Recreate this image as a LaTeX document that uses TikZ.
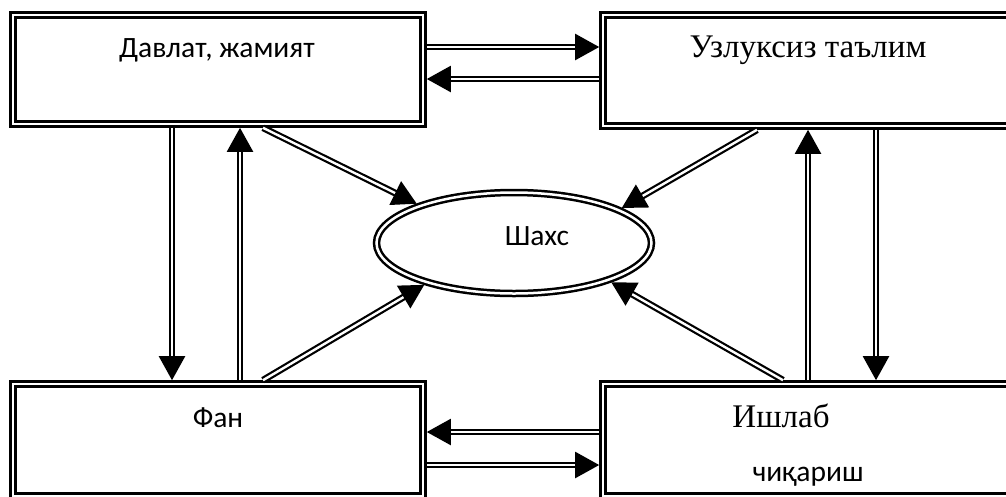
\documentclass[tikz,border=0pt]{standalone}
\usepackage{fontspec}
\newfontfamily\sansf{Carlito}
\newfontfamily\seriff{Liberation Serif}
\usetikzlibrary{arrows.meta,shapes.geometric}
\begin{document}
\begin{tikzpicture}[x=1pt,y=-1pt,
  box/.style={draw, double, line width=2.6pt, double distance=2.4pt, rectangle, inner sep=0pt, outer sep=3.8pt},
  oval/.style={draw, double, line width=2.5pt, double distance=2.5pt, ellipse, inner sep=0pt, outer sep=3.7pt},
  arr/.style={draw, double, line width=2.2pt, double distance=2.4pt, -{Triangle[length=24pt,width=26pt]}},
  stxt/.style={font=\sansf\fontsize{29.5}{32}\selectfont, anchor=base, inner sep=0pt},
  rtxt/.style={font=\seriff\fontsize{33}{36}\selectfont, anchor=base, inner sep=0pt}]
\useasboundingbox (0,0) rectangle (1006,496);
% boxes
\node[box, minimum width=410pt, minimum height=109pt] (tl) at (218,69.5) {};
\node[box, minimum width=410pt, minimum height=111pt] (tr) at (808,70.5) {};
\node[box, minimum width=410pt, minimum height=112pt] (bl) at (218,440) {};
\node[box, minimum width=410pt, minimum height=112pt] (br) at (808,440) {};
\node[oval, minimum width=275pt, minimum height=101pt] (sh) at (514,243) {};
% texts
\node[stxt] (tlt) at (217,57) {Давлат, жамият};
\node[rtxt] (trt) at (808,57) {Узлуксиз таълим};
\node[stxt] (sht) at (537,245) {Шахс};
\node[stxt] (blt) at (218,427) {Фан};
\node[rtxt] (brt) at (781,427) {Ишлаб};
\node[stxt] (brt2) at (808,481) {чиқариш};
% anchor helpers
\path ([yshift=22.5pt]tl.east) coordinate (h1)
      ([yshift=-9.5pt]tl.east) coordinate (h2)
      ([yshift=8pt]bl.east) coordinate (h3)
      ([yshift=-25pt]bl.east) coordinate (h4)
      ([xshift=-46pt]tl.south) coordinate (v1)
      ([xshift=22pt]tl.south) coordinate (v2)
      ([xshift=0pt]tr.south) coordinate (v3)
      ([xshift=68pt]tr.south) coordinate (v4);
% horizontal connectors
\draw[arr] (h1) -- (h1 -| tr.west);
\draw[arr] (h2 -| tr.west) -- (h2);
\draw[arr] (h3 -| br.west) -- (h3);
\draw[arr] (h4) -- (h4 -| br.west);
% vertical connectors
\draw[arr] (v1) -- (v1 |- bl.north);
\draw[arr] (v2 |- bl.north) -- (v2);
\draw[arr] (v3 |- br.north) -- (v3);
\draw[arr] (v4) -- (v4 |- br.north);
% diagonals to the person
\draw[arr] ([xshift=45pt]tl.south) -- (sh.158);
\draw[arr] ([xshift=45pt]bl.north) -- (sh.205);
\draw[arr] ([xshift=-51pt]tr.south) -- (sh.18);
\draw[arr] ([xshift=-25pt]br.north) -- (sh.338);
\end{tikzpicture}
\end{document}
